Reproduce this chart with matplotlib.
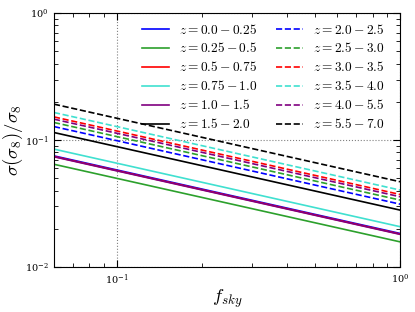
import numpy as np
import matplotlib
matplotlib.use('Agg')
import matplotlib.pyplot as plt

plt.rcParams['mathtext.fontset'] = 'cm'
plt.rcParams['font.family'] = 'serif'
plt.rcParams['font.serif'] = ['DejaVu Serif']

# redshift bins and sigma(sigma8)/sigma8 at fsky = 1 (scales as fsky^-1/2)
labels = ['0.0 - 0.25', '0.25 - 0.5', '0.5 - 0.75', '0.75 - 1.0', '1.0 - 1.5', '1.5 - 2.0',
          '2.0 - 2.5', '2.5 - 3.0', '3.0 - 3.5', '3.5 - 4.0', '4.0 - 5.5', '5.5 - 7.0']
err_full_sky = [0.0184, 0.0158, 0.0182, 0.0208, 0.0181, 0.0281,
                0.0313, 0.0337, 0.0373, 0.0404, 0.0358, 0.047]
colors = ['blue', '#2ca02c', 'red', 'turquoise', 'purple', 'black'] * 2
styles = ['-'] * 6 + ['--'] * 6

fsky = np.logspace(np.log10(0.06), 0, 50)

fig = plt.figure(figsize=(4.15, 3.12), dpi=100)
ax = fig.add_axes([0.130, 0.144, 0.834, 0.814])

for lab, amp, c, ls in zip(labels, err_full_sky, colors, styles):
    z0, z1 = lab.split(' - ')
    ax.plot(fsky, amp / np.sqrt(fsky), color=c, ls=ls, lw=1.2,
            label=r'$z = %s - %s$' % (z0, z1))

ax.set_xscale('log')
ax.set_yscale('log')
ax.set_xlim(0.06, 1)
ax.set_ylim(1e-2, 1)
ax.grid(True, which='major', ls=':', color='gray', lw=0.8)
ax.tick_params(which='both', direction='in', top=True, right=True, labelsize=7)
ax.tick_params(which='major', length=5, pad=4)
ax.tick_params(which='minor', length=3)
ax.set_xlabel(r'$f_{sky}$', fontsize=13.5, labelpad=0)
ax.set_ylabel(r'$\sigma(\sigma_8)/\sigma_8$', fontsize=13.5, labelpad=0)
ax.legend(ncol=2, frameon=False, fontsize=9.6, loc='upper right',
          bbox_to_anchor=(0.99, 1.01),
          handlelength=2.0, handletextpad=0.75, columnspacing=1.4,
          labelspacing=0.37)

fig.savefig('out.png', dpi=100)
